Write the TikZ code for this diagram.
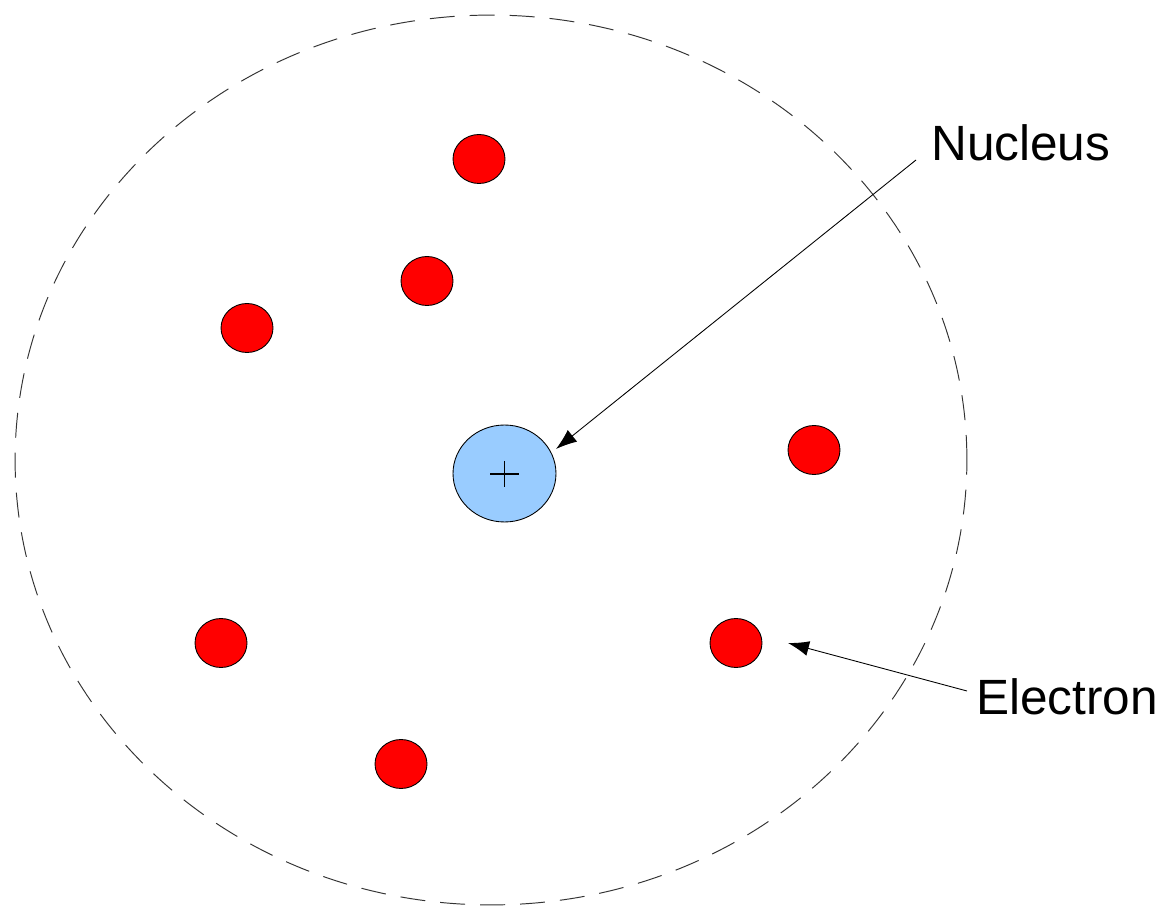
\documentclass[tikz,border=0pt]{standalone}
\usepackage{fontspec}
\setmainfont{Liberation Sans}
\usetikzlibrary{shapes.geometric,arrows.meta}
\definecolor{elred}{RGB}{255,0,0}
\definecolor{nucblue}{RGB}{153,204,255}
\tikzset{
  electron/.style={ellipse,draw=black,line width=0.5pt,fill=elred,inner sep=0pt,minimum width=1.04cm,minimum height=0.98cm},
  nucleusbox/.style={ellipse,draw=black,line width=0.5pt,fill=nucblue,inner sep=0pt,minimum width=2.06cm,minimum height=1.94cm},
  label/.style={inner sep=0pt,font=\fontsize{28.2}{31}\selectfont},
  pointer/.style={draw=black,line width=0.5pt,-{Latex[length=0.42cm,width=0.3cm]}},
  shell/.style={draw=black!80,line width=0.55pt,dash pattern=on 0.5cm off 0.3cm}
}
\begin{document}
\begin{tikzpicture}[x=0.02cm,y=-0.02cm]
\useasboundingbox (0,0) rectangle (1164,908);
% outer dashed boundary
\draw[shell] (491,460) ellipse [x radius=9.52cm, y radius=8.9cm];
% nucleus
\node[nucleusbox] (nucleus) at (504.5,473.5) {};
\draw[line width=0.85pt] (490,474) -- (519,474) (504.5,461) -- (504.5,487);
% electrons
\node[electron] (e1) at (479,159) {};
\node[electron] (e2) at (427,281) {};
\node[electron] (e3) at (247,328) {};
\node[electron] (e4) at (814,450) {};
\node[electron] (e5) at (221,643) {};
\node[electron] (e6) at (736,643) {};
\node[electron] (e7) at (401,764) {};
% labels
\node[label,anchor=base west] (nuclabel) at (931,161) {Nucleus};
\node[label,anchor=base west] (ellabel) at (976,715) {Electron};
% pointers
\coordinate (nucstart) at (916,160);
\coordinate (nuctip) at (556,449);
\coordinate (elstart) at (967,691);
\coordinate (eltip) at (788,643);
\draw[pointer] (nucstart) -- (nuctip);
\draw[pointer] (elstart) -- (eltip);
\end{tikzpicture}
\end{document}
